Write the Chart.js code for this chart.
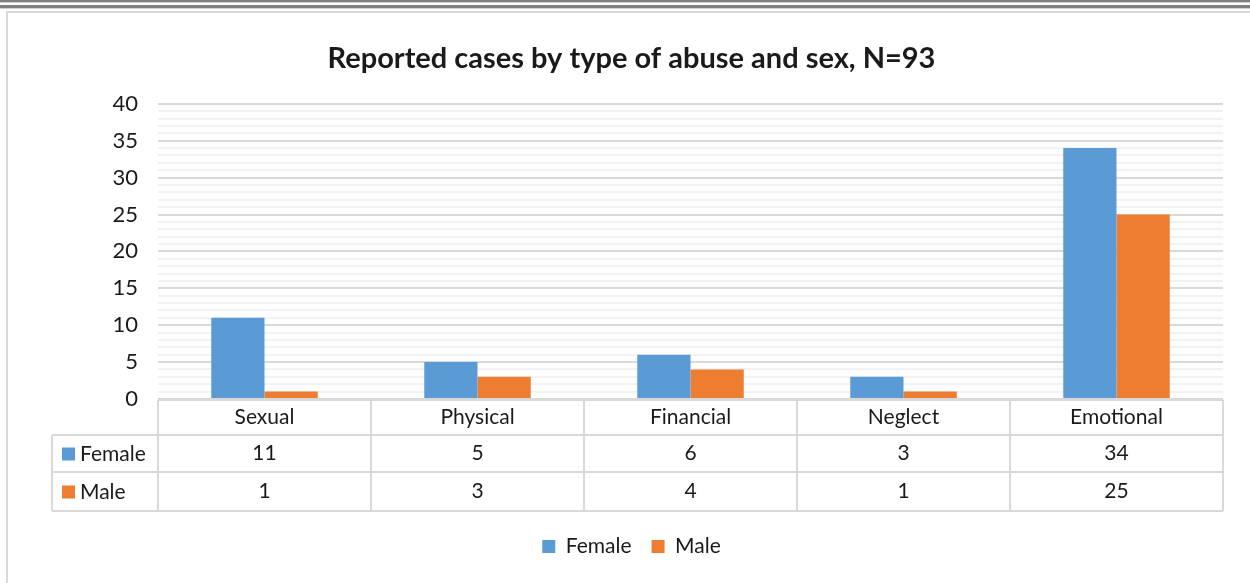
<!DOCTYPE html>
<html>
<head>
<meta charset="utf-8">
<script src="https://cdn.jsdelivr.net/npm/chart.js@4/dist/chart.umd.min.js"></script>
<style>
  html, body { margin: 0; padding: 0; background: #fff; }
  #wrap { width: 1250px; height: 583px; }
</style>
</head>
<body>
<div id="wrap"><canvas id="abuseChart" width="1250" height="583"></canvas></div>
<script>
const categories = ['Sexual', 'Physical', 'Financial', 'Neglect', 'Emotional'];
const female = [11, 5, 6, 3, 34];
const male = [1, 3, 4, 1, 25];
const seriesNames = ['Female', 'Male'];
const seriesColors = ['#5B9BD5', '#ED7D31'];
const yMax = 40;

const FONT = 'Lato, "Open Sans", sans-serif';
const GRID = '#d9d9d9';
const TXT = 21;

// page frame (double rule at top + light border)
const framePlugin = {
    id: 'frame',
    beforeDraw(chart) {
        const ctx = chart.ctx;
        ctx.save();
        ctx.fillStyle = '#fff';
        ctx.fillRect(0, 0, chart.width, chart.height);
        ctx.fillStyle = '#7f7f7f';
        ctx.fillRect(0, 0, chart.width, 2);
        ctx.fillRect(0, 5, chart.width, 3);
        ctx.fillStyle = '#d0d0d0';
        ctx.fillRect(0, 2, chart.width, 1);
        ctx.fillRect(0, 8, chart.width, 1);
        ctx.fillStyle = GRID;
        ctx.fillRect(6, 11, chart.width - 6, 2);
        ctx.fillRect(6, 11, 2, chart.height - 11);
        ctx.restore();
    }
};

// Excel style data table under the x axis
const tablePlugin = {
    id: 'dataTable',
    afterDraw(chart) {
        const ctx = chart.ctx;
        const area = chart.chartArea;
        const xs = chart.scales.x;
        const n = categories.length;
        const step = (area.right - area.left) / n;
        const top = area.bottom + 1;
        const rows = [top, top + 35, top + 72, top + 111];
        const legLeft = 52;

        ctx.save();
        ctx.strokeStyle = GRID;
        ctx.lineWidth = 2;
        ctx.beginPath();
        ctx.moveTo(area.left, rows[0]); ctx.lineTo(area.right, rows[0]);
        for (let r = 1; r < rows.length; r++) {
            ctx.moveTo(legLeft, rows[r]); ctx.lineTo(area.right, rows[r]);
        }
        for (let i = 0; i <= n; i++) {
            const x = area.left + i * step;
            ctx.moveTo(x, rows[0]); ctx.lineTo(x, rows[3]);
        }
        ctx.moveTo(legLeft, rows[1]); ctx.lineTo(legLeft, rows[3]);
        ctx.stroke();

        ctx.fillStyle = '#1a1a1a';
        ctx.font = TXT + 'px ' + FONT;
        ctx.textAlign = 'center';
        ctx.textBaseline = 'middle';
        const vals = [female, male];
        categories.forEach((c, i) => {
            const cx = xs.getPixelForValue(i);
            ctx.fillText(c, cx, (rows[0] + rows[1]) / 2);
            ctx.fillText(String(vals[0][i]), cx, (rows[1] + rows[2]) / 2);
            ctx.fillText(String(vals[1][i]), cx, (rows[2] + rows[3]) / 2);
        });

        ctx.textAlign = 'left';
        seriesNames.forEach((s, r) => {
            const cy = (rows[r + 1] + rows[r + 2]) / 2;
            ctx.fillStyle = seriesColors[r];
            ctx.fillRect(62, cy - 6, 13, 13);
            ctx.fillStyle = '#1a1a1a';
            ctx.fillText(s, 80, cy + 1);
        });
        ctx.restore();
    }
};

new Chart(document.getElementById('abuseChart'), {
    type: 'bar',
    data: {
        labels: categories,
        datasets: [
            { label: seriesNames[0], data: female, backgroundColor: seriesColors[0] },
            { label: seriesNames[1], data: male, backgroundColor: seriesColors[1] }
        ]
    },
    options: {
        responsive: false,
        animation: false,
        devicePixelRatio: 1,
        layout: { padding: { left: 40, right: 27, top: 27, bottom: 16 } },
        datasets: {
            bar: { barPercentage: 1, categoryPercentage: 0.5 }
        },
        scales: {
            x: {
                grid: { display: false, drawTicks: false },
                border: { display: false },
                ticks: { display: false },
                afterFit(scale) { scale.height = 117; }
            },
            y: {
                min: 0,
                max: yMax,
                border: { display: false },
                grid: {
                    drawTicks: false,
                    lineWidth: 2,
                    color: c => (c.tick && c.tick.value % 5 === 0) ? GRID : '#f2f2f2'
                },
                ticks: {
                    stepSize: 1,
                    autoSkip: false,
                    padding: 20,
                    color: '#1a1a1a',
                    font: { family: FONT, size: 22 },
                    callback: v => (v % 5 === 0 ? v : '')
                },
                afterFit(scale) { scale.width = 118; }
            }
        },
        plugins: {
            title: {
                display: true,
                text: 'Reported cases by type of abuse and sex, N=93',
                color: '#1a1a1a',
                font: { family: FONT, size: 29, weight: 'bold' },
                padding: { top: 14, bottom: 28 }
            },
            legend: {
                position: 'bottom',
                labels: {
                    boxWidth: 13,
                    boxHeight: 13,
                    padding: 20,
                    color: '#1a1a1a',
                    font: { family: FONT, size: TXT }
                }
            },
            tooltip: { enabled: false }
        }
    },
    plugins: [framePlugin, tablePlugin]
});
</script>
</body>
</html>
